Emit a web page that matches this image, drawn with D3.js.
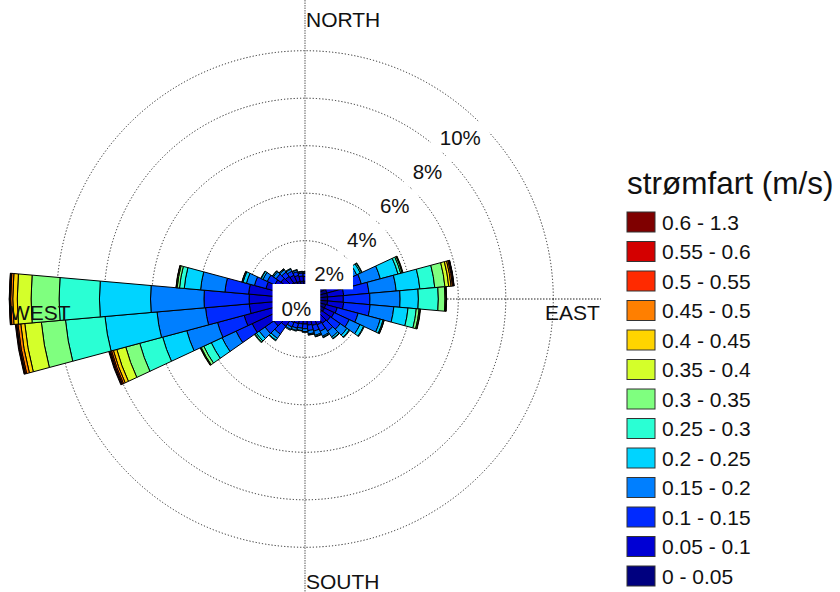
<!DOCTYPE html>
<html>
<head>
<meta charset="utf-8">
<script src="https://cdn.jsdelivr.net/npm/d3@7"></script>
<style>
  html, body { margin: 0; padding: 0; background: #fff; }
  svg { display: block; font-family: "Liberation Sans", Arial, sans-serif; }
</style>
</head>
<body>
<svg id="chart" width="840" height="592"></svg>
<script>
// ---- data ----
const directions = [0,10,20,30,40,50,60,70,80,90,100,110,120,130,140,150,160,170,
                    180,190,200,210,220,230,240,250,260,270,280,290,300,310,320,330,340,350];
const speedBins = ["0 - 0.05","0.05 - 0.1","0.1 - 0.15","0.15 - 0.2","0.2 - 0.25","0.25 - 0.3",
                   "0.3 - 0.35","0.35 - 0.4","0.4 - 0.45","0.45 - 0.5","0.5 - 0.55","0.55 - 0.6","0.6 - 1.3"];
// frequency (%) per direction, per speed bin (low -> high)
const freq = [
  [0.30,0.20,0.12,0.06,0.02],                                   // 0
  [0.30,0.22,0.14,0.07,0.02],                                   // 10
  [0.30,0.25,0.17,0.09,0.03,0.01],                              // 20
  [0.32,0.28,0.22,0.12,0.05,0.01],                              // 30
  [0.35,0.35,0.30,0.18,0.09,0.03],                              // 40
  [0.40,0.45,0.40,0.25,0.14,0.05,0.01],                         // 50
  [0.45,0.60,0.50,0.40,0.17,0.06,0.02],                         // 60
  [0.50,0.70,0.80,0.83,0.77,0.12,0.06,0.02,0.02],               // 70
  [0.50,0.68,1.07,1.15,1.00,0.63,0.43,0.16,0.10,0.06,0.04,0.02,0.01], // 80
  [0.50,0.66,1.12,1.27,0.77,0.84,0.28,0.04,0.02,0.01],          // 90
  [0.50,0.68,1.12,1.00,0.60,0.35,0.12,0.04,0.02],               // 100
  [0.45,0.50,0.91,0.97,0.12,0.04,0.01],                         // 110
  [0.45,0.45,0.70,0.50,0.17,0.03],                              // 120
  [0.40,0.45,0.50,0.35,0.12,0.03],                              // 130
  [0.40,0.40,0.40,0.30,0.08,0.02],                              // 140
  [0.40,0.35,0.30,0.23,0.05,0.02],                              // 150
  [0.40,0.30,0.25,0.18,0.05,0.02],                              // 160
  [0.35,0.30,0.23,0.14,0.04,0.01],                              // 170
  [0.35,0.25,0.20,0.12,0.03],                                   // 180
  [0.35,0.25,0.18,0.10,0.02],                                   // 190
  [0.35,0.27,0.20,0.10,0.03],                                   // 200
  [0.35,0.30,0.20,0.11,0.04],                                   // 210
  [0.45,0.50,0.40,0.22,0.10,0.03],                              // 220
  [0.50,0.65,0.45,0.30,0.15,0.07,0.03],                         // 230
  [0.70,1.30,0.75,0.65,0.50,0.35,0.12,0.03,0.02],               // 240
  [0.70,1.50,1.16,1.34,1.05,1.00,0.61,0.39,0.15,0.08,0.05,0.04,0.03], // 250
  [0.60,1.30,1.85,2.05,2.20,1.67,1.02,0.70,0.17,0.12,0.05,0.03,0.03], // 260
  [0.60,1.30,1.90,2.25,2.15,1.70,1.18,0.58,0.19,0.09,0.03,0.02,0.01], // 270
  [0.60,1.33,1.00,1.03,0.69,0.20,0.10,0.04,0.01],               // 280
  [0.50,0.75,0.50,0.35,0.15,0.04,0.01],                         // 290
  [0.45,0.50,0.35,0.20,0.08,0.02],                              // 300
  [0.40,0.38,0.25,0.14,0.05,0.01],                              // 310
  [0.38,0.33,0.22,0.12,0.04,0.01],                              // 320
  [0.35,0.30,0.19,0.10,0.03],                                   // 330
  [0.32,0.26,0.16,0.07,0.02],                                   // 340
  [0.30,0.22,0.13,0.05,0.02]                                    // 350
];
const ringValues = [2,4,6,8,10];
const ringLabels = ["0%","2%","4%","6%","8%","10%"];
const compass = ["NORTH","EAST","SOUTH","WEST"];
const legendTitle = "strømfart (m/s)";

// ---- layout ----
const svg = d3.select("#chart");
const cx = 305, cy = 299;
const r = d3.scaleLinear().domain([0, 10]).range([10.8, 248.3]);
const jetAnchors = ["#00007F","blue","#007FFF","cyan","#7FFF7F","yellow","#FF7F00","red","#7F0000"];
const jet = d3.piecewise(d3.interpolateRgb, jetAnchors);
const colors = speedBins.map((_, i) => jet(i / (speedBins.length - 1)));
const color = d3.scaleOrdinal().domain(speedBins).range(colors);

const g = svg.append("g").attr("transform", `translate(${cx},${cy})`);

// grid circles
g.selectAll("circle.ring").data(ringValues).enter().append("circle")
  .attr("class","ring").attr("r", d => r(d))
  .attr("fill","none").attr("stroke","#222").attr("stroke-width",1)
  .attr("stroke-dasharray","1.2,2");

// axis lines
g.append("line").attr("x1",0).attr("x2",0).attr("y1",-cy).attr("y2",592-cy)
  .attr("stroke","#777").attr("stroke-width",1.2).attr("stroke-dasharray","1.5,1");
g.append("line").attr("x1",-296).attr("x2",296).attr("y1",0).attr("y2",0)
  .attr("stroke","#222").attr("stroke-width",1.2).attr("stroke-dasharray","1.5,1.5");

// wedges
const arc = d3.arc();
const segs = [];
directions.forEach((dir, i) => {
  let cum = 0;
  freq[i].forEach((v, k) => {
    segs.push({dir, k, a: cum, b: cum + v});
    cum += v;
  });
});
const half = 5 * Math.PI / 180;
g.selectAll("path.seg").data(segs).enter().append("path")
  .attr("class","seg")
  .attr("d", d => arc({
    innerRadius: r(d.a), outerRadius: r(d.b),
    startAngle: d.dir * Math.PI / 180 - half,
    endAngle: d.dir * Math.PI / 180 + half
  }))
  .attr("fill", d => color(speedBins[d.k]))
  .attr("stroke", "#000").attr("stroke-width", 1).attr("stroke-linejoin","round");

// ring labels with white boxes
const labVals = [0].concat(ringValues);
const boxLayer = g.append("g");
const textLayer = g.append("g");
labVals.forEach((v, i) => {
  const d = r(v) - 23.3;
  const x = 0.69 * d, y = -0.72 * d;
  const t = textLayer.append("text").attr("x", x).attr("y", y + 7.5)
    .attr("text-anchor","middle").attr("font-size", 20.5).attr("fill","#111")
    .text(ringLabels[i]);
  const w = t.node().getComputedTextLength() + 18;
  const top = v === 0 ? -15 : y - 15.5;
  const h = v === 0 ? 37 : 31;
  boxLayer.append("rect").attr("x", x - w / 2).attr("y", top)
    .attr("width", w).attr("height", h).attr("fill", "#fff");
});

// compass labels
const compassPos = {NORTH:[cx+1, 27], EAST:[545, 320], SOUTH:[cx+1, 589], WEST:[10, 320]};
compass.forEach(c => {
  svg.append("text").attr("x", compassPos[c][0]).attr("y", compassPos[c][1])
    .attr("font-size", 21).attr("fill","#111").text(c);
});

// legend
const lg = svg.append("g").attr("transform","translate(627,0)");
lg.append("text").attr("x",0).attr("y",194).attr("font-size",31.5).attr("fill","#111").text(legendTitle);
const legendItems = speedBins.slice().reverse();
const ly = d3.scalePoint().domain(legendItems).range([222, 576]);
lg.selectAll("rect.key").data(legendItems).enter().append("rect")
  .attr("class","key").attr("x",0).attr("y", d => ly(d) - 10)
  .attr("width",28).attr("height",20)
  .attr("fill", d => color(d)).attr("stroke","#333").attr("stroke-width",1);
lg.selectAll("text.kl").data(legendItems).enter().append("text")
  .attr("class","kl").attr("x",35).attr("y", d => ly(d) + 7.5)
  .attr("font-size",21).attr("fill","#111").text(d => d);
</script>
</body>
</html>
